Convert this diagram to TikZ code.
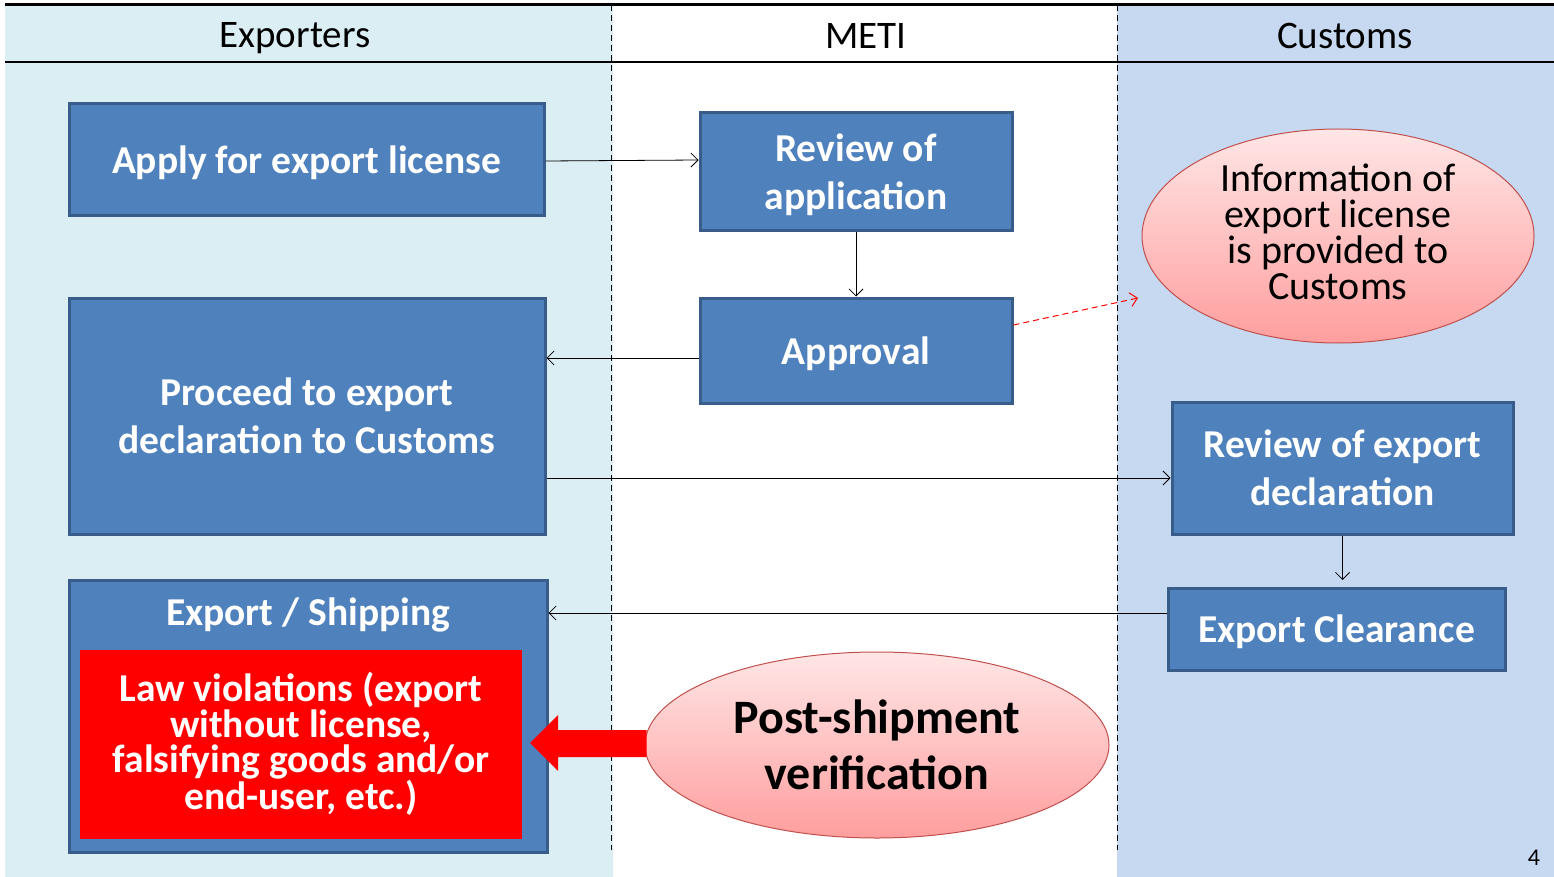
\documentclass[tikz,border=0pt]{standalone}
\usepackage{fontspec}
\setmainfont{Carlito}
\usetikzlibrary{arrows.meta,shapes.geometric,calc}
\definecolor{lanecyan}{HTML}{DAEEF3}
\definecolor{laneblue}{HTML}{C6D9F1}
\definecolor{boxblue}{HTML}{4F81BD}
\definecolor{boxedge}{HTML}{385D8A}
\definecolor{elledge}{HTML}{C0504D}
\tikzset{
  x=1pt, y=-1pt,
  bluebox/.style={draw=boxedge, line width=3pt, fill=boxblue, text=white, text depth=0pt,
    font=\bfseries\fontsize{39.5}{48}\selectfont, align=center, inner sep=0pt},
  pinkell/.style={ellipse, draw=elledge, line width=1pt, inner sep=0pt,
    top color={rgb,255:red,255;green,230;blue,230}, bottom color={rgb,255:red,255;green,158;blue,158},
    align=center},
  conn/.style={draw=black, line width=0.8pt, -{Straight Barb[length=7pt,width=14pt]}},
  lanetitle/.style={font=\fontsize{39}{44}\selectfont, anchor=center},
  lanesep/.style={draw=black, line width=1pt, dash pattern=on 6pt off 4pt}
}
\begin{document}
\begin{tikzpicture}
\useasboundingbox (0,0) rectangle (1554,877);
% lanes
\fill[lanecyan] (5,5) rectangle (613,877);
\fill[white] (613,5) rectangle (1117,877);
\fill[laneblue] (1117,5) rectangle (1554,877);
\draw[line width=3pt] (5,5) -- (1554,5);
\draw[line width=2pt] (5,62) -- (1554,62);
\draw[lanesep] (611,5) -- (611,850);
\draw[lanesep] (1117,5) -- (1117,850);
\node[lanetitle] (h1) at (295,38) {Exporters};
\node[lanetitle] (h2) at (866,36) {METI};
\node[lanetitle] (h3) at (1345,36) {Customs};

% boxes
\node[bluebox, minimum width=475pt, minimum height=112pt] (apply) at (306.5,160) {Apply for export license};
\node[bluebox, minimum width=312pt, minimum height=118pt] (review) at (856,172) {Review of\\application};
\node[bluebox, minimum width=312pt, minimum height=105pt] (approval) at (856,350.5) {Approval};
\node[bluebox, minimum width=476pt, minimum height=236pt] (proceed) at (307,416) {Proceed to export\\declaration to Customs};
\node[bluebox, minimum width=341pt, minimum height=132pt] (revexp) at (1342.5,468) {Review of export\\declaration};
\node[bluebox, minimum width=337pt, minimum height=82pt] (clear) at (1336.5,629) {Export Clearance};
\node[bluebox, minimum width=478pt, minimum height=272pt] (ship) at (308,716) {};
\node[font=\bfseries\fontsize{39.5}{44}\selectfont, text=white] (shiptitle) at (308,615) {Export / Shipping};
\node[fill=red, minimum width=442pt, minimum height=189pt, inner sep=0pt, text=white, align=center,
  font=\bfseries\fontsize{39.5}{35.5}\selectfont] (viol) at (301,744)
  {Law violations (export\\without license,\\falsifying goods and/or\\end-user, etc.)};

% ellipses
\node[pinkell, minimum width=392pt, minimum height=214pt] (info) at (1338,236) {};
\node[font=\fontsize{40}{36}\selectfont, align=center] (infotext) at (1338,232)
  {Information of\\export license\\is provided to\\Customs};
\node[pinkell, minimum width=464pt, minimum height=186pt, font=\bfseries\fontsize{48}{56}\selectfont] (post) at (877,745)
  {Post-shipment\\verification};

% connectors
\draw[conn] (apply.east |- 0,161) -- (review.west |- 0,160);
\draw[conn] (review.south) -- (approval.north);
\draw[conn] (approval.west |- 0,358) -- (proceed.east |- 0,358);
\draw[conn] (proceed.east |- 0,478) -- (revexp.west |- 0,478);
\draw[conn] (revexp.south) -- (1342.5,580);
\draw[conn] (clear.west |- 0,613) -- (ship.east |- 0,613);
\coordinate (infoend) at (1138,298);
\draw[red, line width=1pt, dash pattern=on 6pt off 4pt, -{Straight Barb[length=7pt,width=14pt]}] (approval.east |- 0,325) -- (infoend);
% big red arrow
\fill[red] ($(post.west)+(2,-15)$) -- (558,730) -- (558,715) -- (530,743) -- (558,771) -- (558,757) -- ($(post.west)+(2,12)$) -- cycle;
\node[font=\fontsize{24}{28}\selectfont] (pg) at (1534,858) {4};
\end{tikzpicture}
\end{document}
